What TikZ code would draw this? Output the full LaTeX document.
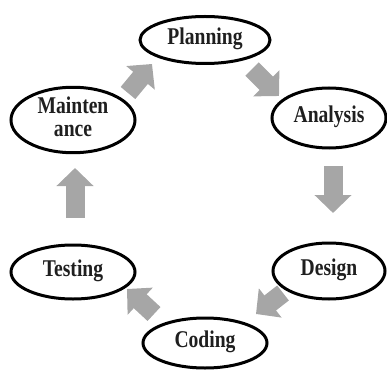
\documentclass[tikz,border=0pt]{standalone}
\usepackage{fontspec}
\usepackage{graphicx}
\setmainfont{Liberation Serif}
\usetikzlibrary{shapes.geometric,arrows.meta}
\definecolor{arrowgray}{RGB}{166,166,166}
\newcommand{\phasetext}[1]{\scalebox{0.98}[1.2]{\begin{tabular}{@{}c@{}}#1\end{tabular}}}
\tikzset{
  phase/.style={ellipse, draw=black, line width=3pt, fill=white, inner sep=0pt,
    font=\fontsize{20}{19}\selectfont\bfseries, align=center, text=black!88},
  blockarrow/.style={draw=arrowgray, line width=19pt,
    -{Triangle[width=36pt,length=18pt]}, color=arrowgray}
}
\begin{document}
\begin{tikzpicture}[x=1pt,y=-1pt]
\useasboundingbox (0,0) rectangle (387,371);
\node[phase, minimum width=130pt, minimum height=47pt] (plan) at (205,40) {\phasetext{Planning}};
\node[phase, minimum width=124pt, minimum height=61pt] (maint) at (73,120) {\phasetext{Mainten\\ance}};
\node[phase, minimum width=114pt, minimum height=60pt] (anal) at (329,118) {\phasetext{Analysis}};
\node[phase, minimum width=124pt, minimum height=54pt] (test) at (73,272) {\phasetext{Testing}};
\node[phase, minimum width=112pt, minimum height=56pt] (design) at (329,271) {\phasetext{Design}};
\node[phase, minimum width=124pt, minimum height=50pt] (coding) at (205,343) {\phasetext{Coding}};
% arrow endpoints
\coordinate (a1s) at (128,93);  \coordinate (a1e) at (152,64);
\coordinate (a2s) at (252,69);  \coordinate (a2e) at (279,96);
\coordinate (a3s) at (333,166); \coordinate (a3e) at (333,213);
\coordinate (a4s) at (283,293); \coordinate (a4e) at (256,314);
\coordinate (a5s) at (154,314); \coordinate (a5e) at (127,289);
\coordinate (a6s) at (75,218);  \coordinate (a6e) at (75,168);
\draw[blockarrow] (a1s) -- (a1e);
\draw[blockarrow] (a2s) -- (a2e);
\draw[blockarrow] (a3s) -- (a3e);
\draw[blockarrow] (a4s) -- (a4e);
\draw[blockarrow] (a5s) -- (a5e);
\draw[blockarrow] (a6s) -- (a6e);
\end{tikzpicture}
\end{document}
